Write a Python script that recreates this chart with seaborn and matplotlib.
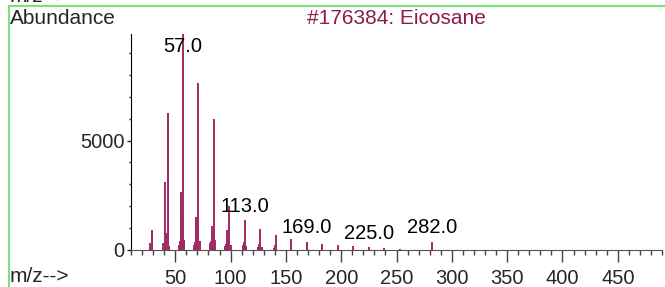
import matplotlib
matplotlib.use('Agg')
import matplotlib.pyplot as plt
from matplotlib.ticker import MultipleLocator, FixedLocator
from matplotlib.lines import Line2D
import seaborn as sns
import pandas as pd

# spectrum data (m/z, abundance)
mz = [27, 29, 39, 41, 42, 43, 44, 53, 54, 55, 56, 57, 58, 67, 68, 69, 70, 71, 72,
      81, 82, 83, 84, 85, 86, 95, 96, 97, 98, 99, 100, 111, 112, 113, 114,
      125, 126, 127, 128, 139, 140, 141, 155, 169, 183, 197, 211, 225, 239, 253, 282]
abundance = [300, 890, 310, 3100, 750, 6250, 150, 200, 400, 2650, 1500, 9890, 430, 200, 350, 1500, 1280, 7650, 400,
             300, 400, 1080, 820, 5970, 450, 150, 250, 890, 450, 2000, 200, 200, 350, 1350, 150,
             100, 250, 925, 120, 80, 200, 680, 480, 360, 250, 200, 160, 130, 70, 30, 360]
peak_labels = [57, 113, 169, 225, 282]
title = '#176384: Eicosane'

df = pd.DataFrame({'mz': mz, 'abundance': abundance})

sns.set_style('ticks')
plt.rcParams['font.family'] = ['Liberation Sans', 'DejaVu Sans']
plt.rcParams['font.size'] = 15

fig = plt.figure(figsize=(6.65, 2.87), dpi=100)
ax = fig.add_axes([131 / 665, 1 - 249.5 / 287, 531 / 665, 215.5 / 287])

# stick spectrum
ax.vlines(df['mz'], 0, df['abundance'], color='#a02a66', linewidth=1.4)

ax.set_xlim(10, 490)
ax.set_ylim(0, 9890)

# peak labels
ab = dict(zip(mz, abundance))
for p in peak_labels:
    y = min(ab[p], 8700)
    ax.annotate(f'{p:.1f}', xy=(p, y), xytext=(0, 3), textcoords='offset points',
                ha='center', va='bottom', fontsize=14.5, color='black')

ax.xaxis.set_major_locator(FixedLocator([50, 100, 150, 200, 250, 300, 350, 400, 450]))
ax.xaxis.set_minor_locator(MultipleLocator(10))
ax.yaxis.set_major_locator(FixedLocator([0, 5000]))
ax.yaxis.set_minor_locator(MultipleLocator(1000))
ax.tick_params(axis='x', which='major', length=8.5, width=1, color='#444444', labelsize=14.5, pad=5.5)
ax.tick_params(axis='x', which='minor', length=3.6, width=1, color='#444444')
ax.tick_params(axis='y', which='major', length=3, width=1, labelsize=14.5, pad=1.5)
ax.tick_params(axis='y', which='minor', length=1.8, width=1)

ax.set_xlabel('')
ax.set_ylabel('')
sns.despine(ax=ax, top=True, right=True)
ax.spines['bottom'].set_color('#555555')
ax.spines['left'].set_color('black')

fig.text(10 / 665, 1 - 19 / 287, 'Abundance', ha='left', va='center', fontsize=15)
fig.text(396 / 665, 1 - 19 / 287, title, ha='center', va='center', fontsize=15, color='#8b1a4f')
fig.text(10 / 665, 1 - 276 / 287, 'm/z-->', ha='left', va='center', fontsize=15)
fig.text(10 / 665, 1 - (-3) / 287, 'm/z-->', ha='left', va='center', fontsize=15)

# green frame
fig.add_artist(Line2D([9 / 665, 9 / 665], [0, 1 - 6 / 287], transform=fig.transFigure,
                      color='#7de27d', linewidth=1.5))
fig.add_artist(Line2D([9 / 665, 1], [1 - 6 / 287, 1 - 6 / 287], transform=fig.transFigure,
                      color='#7de27d', linewidth=1.5))

fig.savefig('out.png', dpi=100)
